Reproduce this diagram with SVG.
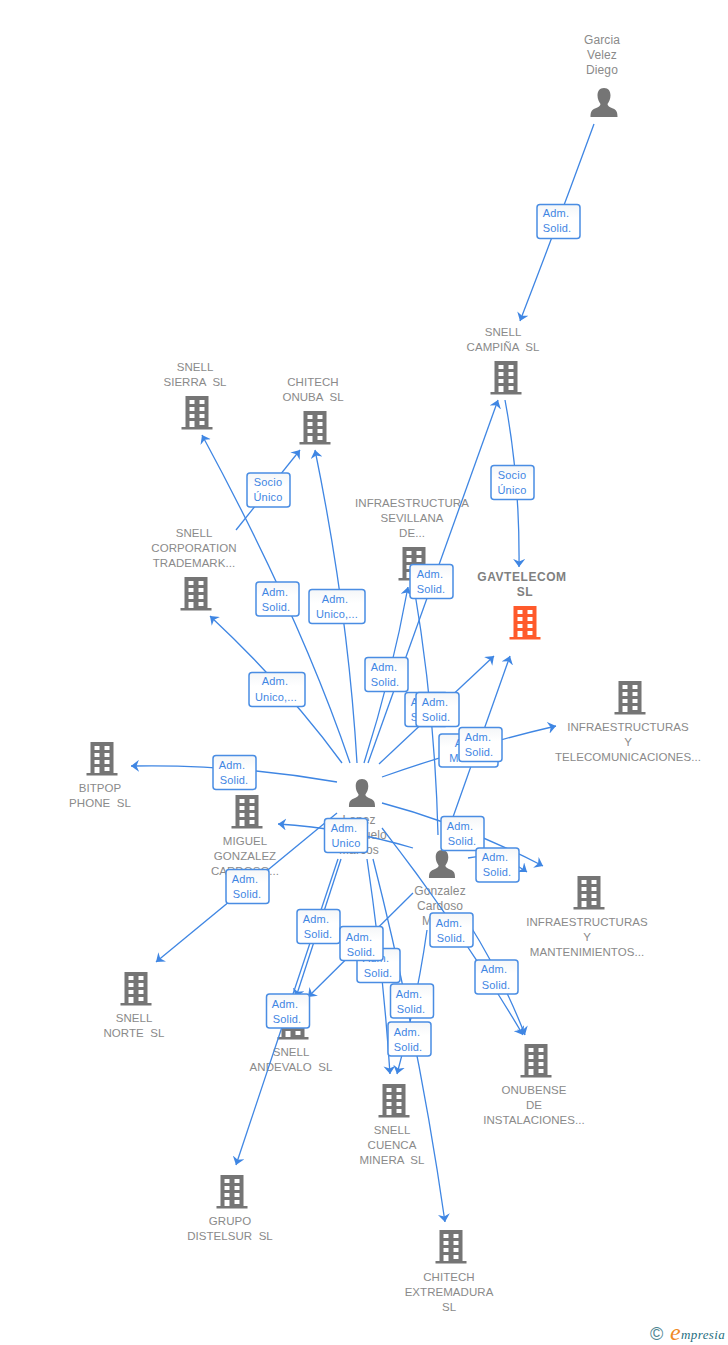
<svg xmlns="http://www.w3.org/2000/svg" width="728" height="1345" viewBox="0 0 728 1345">
<style>
text{font-family:"Liberation Sans",Arial,sans-serif;white-space:pre}
.n{font-size:11.5px;fill:#8a8a8a;text-anchor:middle;letter-spacing:.05px}
.c{font-size:12px;fill:#8a8a8a;text-anchor:middle;letter-spacing:.1px}
.g{font-size:12px;font-weight:bold;fill:#808080;text-anchor:middle;letter-spacing:.55px}
.l{fill:none;stroke:#3f86e3;stroke-width:1.3;marker-end:url(#a)}
.b{fill:url(#w);stroke:#4a8de3;stroke-width:1.5}
.t{font-size:11px;fill:#3f86e3;text-anchor:middle;letter-spacing:.2px}
</style>
<defs>
<linearGradient id="w" x1="0" y1="0" x2="0" y2="1"><stop offset="0" stop-color="#f4f6f8"/><stop offset=".4" stop-color="#fff"/></linearGradient>
<marker id="a" viewBox="0 0 8 12" refX="8" refY="6" markerWidth="8" markerHeight="12" markerUnits="userSpaceOnUse" orient="auto"><path d="M0 0L8 6L0 12L2.500 6Z" fill="#3f86e3"/></marker>
<symbol id="bd" viewBox="0 0 32 34" overflow="visible"><path fill="currentColor" fill-rule="evenodd" d="M4.500 0H27.500V31H31.500V33.500H.5V31H4.500ZM8.500 4V8H13.500V4ZM18.500 4V8H23.500V4ZM8.500 11V15H13.500V11ZM18.500 11V15H23.500V11ZM8.500 18V22H13.500V18ZM18.500 18V22H23.500V18ZM8.500 25V31H13.500V25ZM18.500 25V29H23.500V25Z"/></symbol>
<symbol id="pr" viewBox="0 0 28 29" overflow="visible"><path fill="#757575" d="M14 0C9.500 0 7.500 3 7.500 7.500C7.500 11 9 14 10.500 16C10.500 18 8.500 19 5 20.500C1.500 22 .5 24 .5 29H27.500C27.500 24 26.500 22 23 20.500C19.500 19 17.500 18 17.500 16C19 14 20.500 11 20.500 7.500C20.500 3 18.500 0 14 0Z"/></symbol>
</defs>
<rect width="728" height="1345" fill="#fff"/>
<g id="garcia"><text class="c" x="602" y="44">Garcia</text><text class="c" x="602" y="59">Velez</text><text class="c" x="602" y="74">Diego</text><use href="#pr" x="590" y="88" width="28" height="29"/></g>
<g id="campina" color="#757575"><text class="n" x="503" y="336">SNELL</text><text class="n" x="503" y="351">CAMPIÑA  SL</text><use href="#bd" x="490" y="361" width="32" height="34"/></g>
<g id="sierra" color="#757575"><text class="n" x="195" y="371">SNELL</text><text class="n" x="195" y="386">SIERRA  SL</text><use href="#bd" x="181" y="396" width="32" height="34"/></g>
<g id="onuba" color="#757575"><text class="n" x="313" y="386">CHITECH</text><text class="n" x="313" y="401">ONUBA  SL</text><use href="#bd" x="299" y="411" width="32" height="34"/></g>
<g id="corporation" color="#757575"><text class="n" x="194" y="537">SNELL</text><text class="n" x="194" y="552">CORPORATION</text><text class="n" x="194" y="567">TRADEMARK...</text><use href="#bd" x="180" y="577" width="32" height="34"/></g>
<g id="sevillana" color="#757575"><text class="n" x="412" y="507">INFRAESTRUCTURA</text><text class="n" x="412" y="522">SEVILLANA</text><text class="n" x="412" y="537">DE...</text><use href="#bd" x="398" y="547" width="32" height="34"/></g>
<g id="gavtelecom" color="#ff5a2b"><text class="g" x="522" y="581">GAVTELECOM</text><text class="g" x="525" y="596">SL</text><use href="#bd" x="509" y="606" width="32" height="34"/></g>
<g id="telecom" color="#757575"><text class="n" x="628" y="731">INFRAESTRUCTURAS</text><text class="n" x="628" y="746">Y</text><text class="n" x="628" y="761">TELECOMUNICACIONES...</text><use href="#bd" x="614" y="681" width="32" height="34"/></g>
<g id="bitpop" color="#757575"><text class="n" x="100" y="792">BITPOP</text><text class="n" x="100" y="807">PHONE  SL</text><use href="#bd" x="86" y="742" width="32" height="34"/></g>
<g id="miguel" color="#757575"><text class="n" x="245" y="845">MIGUEL</text><text class="n" x="245" y="860">GONZALEZ</text><text class="n" x="245" y="875">CARDOSO...</text><use href="#bd" x="231" y="795" width="32" height="34"/></g>
<g id="lopez"><text class="c" x="359" y="824">Lopez</text><text class="c" x="359" y="839">Cerezuelo</text><text class="c" x="359" y="854">Marcos</text><use href="#pr" x="348" y="779" width="28" height="28"/></g>
<g id="gonzalez"><text class="c" x="440" y="895">Gonzalez</text><text class="c" x="440" y="910">Cardoso</text><text class="c" x="440" y="925">Miguel</text><use href="#pr" x="428" y="850" width="28" height="28"/></g>
<g id="mantenimientos" color="#757575"><text class="n" x="587" y="926">INFRAESTRUCTURAS</text><text class="n" x="587" y="941">Y</text><text class="n" x="587" y="956">MANTENIMIENTOS...</text><use href="#bd" x="573" y="876" width="32" height="34"/></g>
<g id="norte" color="#757575"><text class="n" x="134" y="1022">SNELL</text><text class="n" x="134" y="1037">NORTE  SL</text><use href="#bd" x="120" y="972" width="32" height="34"/></g>
<g id="andevalo" color="#757575"><text class="n" x="291" y="1056">SNELL</text><text class="n" x="291" y="1071">ANDEVALO  SL</text><use href="#bd" x="277" y="1006" width="32" height="34"/></g>
<g id="onubense" color="#757575"><text class="n" x="534" y="1094">ONUBENSE</text><text class="n" x="534" y="1109">DE</text><text class="n" x="534" y="1124">INSTALACIONES...</text><use href="#bd" x="520" y="1044" width="32" height="34"/></g>
<g id="cuenca" color="#757575"><text class="n" x="392" y="1134">SNELL</text><text class="n" x="392" y="1149">CUENCA</text><text class="n" x="392" y="1164">MINERA  SL</text><use href="#bd" x="378" y="1084" width="32" height="34"/></g>
<g id="distelsur" color="#757575"><text class="n" x="230" y="1225">GRUPO</text><text class="n" x="230" y="1240">DISTELSUR  SL</text><use href="#bd" x="216" y="1175" width="32" height="34"/></g>
<g id="extremadura" color="#757575"><text class="n" x="449" y="1281">CHITECH</text><text class="n" x="449" y="1296">EXTREMADURA</text><text class="n" x="449" y="1311">SL</text><use href="#bd" x="435" y="1230" width="32" height="34"/></g>
<g id="connectors">
<path class="l" d="M594 124Q559 220 520 321"/>
<path class="l" d="M505 400Q520 480 519 567"/>
<path class="l" d="M236 530L300 450"/>
<path class="l" d="M350 763Q300 616 202 435"/>
<path class="l" d="M357 763Q348 611 315 450"/>
<path class="l" d="M342 763Q289 690 210 616"/>
<path class="l" d="M368 763L498 400"/>
<path class="l" d="M364 763Q392 675 408 587"/>
<path class="l" d="M438 835Q435 711 414 587"/>
<path class="l" d="M379 764L494 656"/>
<path class="l" d="M447 834L510 656"/>
<path class="l" d="M382 777Q470 746 556 726"/>
<path class="l" d="M337 782Q234 764 131 766"/>
<path class="l" d="M413 848Q345 828 278 824"/>
<path class="l" d="M337 813L156 962"/>
<path class="l" d="M382 803Q462 824 543 866"/>
<path class="l" d="M468 858Q500 852 527 872"/>
<path class="l" d="M341 859L296 997"/>
<path class="l" d="M338 859L236 1165"/>
<path class="l" d="M413 893L308 997"/>
<path class="l" d="M367 859Q383 967 390 1074"/>
<path class="l" d="M373 859Q419 1040 445 1222"/>
<path class="l" d="M427 930Q417 1001 397 1074"/>
<path class="l" d="M382 828Q462 931 523 1035"/>
<path class="l" d="M468 922Q503 978 525 1035"/>
<g id="labels">
<rect class="b" x="537" y="204.500" width="43" height="34" rx="3"/><text class="t" x="556" y="217">Adm.</text><text class="t" x="557" y="232">Solid.</text>
<rect class="b" x="491" y="465.500" width="43" height="34" rx="3"/><text class="t" x="512" y="479">Socio</text><text class="t" x="512" y="494">Único</text>
<rect class="b" x="247" y="473" width="43" height="34" rx="3"/><text class="t" x="268" y="486">Socio</text><text class="t" x="268" y="501">Único</text>
<rect class="b" x="256" y="582" width="43" height="34" rx="3"/><text class="t" x="275" y="596">Adm.</text><text class="t" x="276" y="611">Solid.</text>
<rect class="b" x="309" y="589.500" width="56" height="34" rx="3"/><text class="t" x="335" y="603">Adm.</text><text class="t" x="337" y="618">Unico,...</text>
<rect class="b" x="249" y="672.500" width="56" height="34" rx="3"/><text class="t" x="275" y="685">Adm.</text><text class="t" x="276" y="701">Unico,...</text>
<rect class="b" x="365" y="657.500" width="43" height="34" rx="3"/><text class="t" x="384" y="671">Adm.</text><text class="t" x="385" y="686">Solid.</text>
<rect class="b" x="410" y="564.500" width="43" height="34" rx="3"/><text class="t" x="430" y="578">Adm.</text><text class="t" x="431" y="593">Solid.</text>
<rect class="b" x="405" y="692.500" width="43" height="34" rx="3"/><text class="t" x="424" y="706">Adm.</text><text class="t" x="425" y="721">Solid.</text>
<rect class="b" x="416" y="692.500" width="43" height="34" rx="3"/><text class="t" x="435" y="706">Adm.</text><text class="t" x="436" y="721">Solid.</text>
<rect class="b" x="439" y="734" width="59" height="33" rx="3"/><text class="t" x="468" y="747">Adm.</text><text class="t" x="468" y="762">Manc...</text>
<rect class="b" x="459" y="727.500" width="43" height="34" rx="3"/><text class="t" x="478" y="741">Adm.</text><text class="t" x="479" y="756">Solid.</text>
<rect class="b" x="213" y="755.500" width="43" height="34" rx="3"/><text class="t" x="232" y="769">Adm.</text><text class="t" x="234" y="784">Solid.</text>
<rect class="b" x="441" y="816.500" width="43" height="34" rx="3"/><text class="t" x="460" y="830">Adm.</text><text class="t" x="462" y="845">Solid.</text>
<rect class="b" x="476" y="848" width="43" height="34" rx="3"/><text class="t" x="495" y="861">Adm.</text><text class="t" x="497" y="876">Solid.</text>
<rect class="b" x="324.500" y="818.500" width="43" height="34" rx="3"/><text class="t" x="344" y="832">Adm.</text><text class="t" x="346" y="847">Unico</text>
<rect class="b" x="226" y="869.500" width="43" height="34" rx="3"/><text class="t" x="245" y="883">Adm.</text><text class="t" x="247" y="898">Solid.</text>
<rect class="b" x="297" y="909.500" width="43" height="34" rx="3"/><text class="t" x="316" y="923">Adm.</text><text class="t" x="318" y="938">Solid.</text>
<rect class="b" x="357" y="948.500" width="43" height="34" rx="3"/><text class="t" x="376" y="962">Adm.</text><text class="t" x="378" y="977">Solid.</text>
<rect class="b" x="340" y="926.500" width="43" height="34" rx="3"/><text class="t" x="359" y="941">Adm.</text><text class="t" x="361" y="956">Solid.</text>
<rect class="b" x="430" y="913" width="43" height="34" rx="3"/><text class="t" x="449" y="927">Adm.</text><text class="t" x="451" y="942">Solid.</text>
<rect class="b" x="475" y="960" width="43" height="34" rx="3"/><text class="t" x="494" y="973">Adm.</text><text class="t" x="496" y="989">Solid.</text>
<rect class="b" x="390.500" y="984" width="43" height="34" rx="3"/><text class="t" x="409" y="998">Adm.</text><text class="t" x="411" y="1013">Solid.</text>
<rect class="b" x="388" y="1022" width="43" height="34" rx="3"/><text class="t" x="407" y="1036">Adm.</text><text class="t" x="408" y="1051">Solid.</text>
<rect class="b" x="266.500" y="994" width="43" height="34" rx="3"/><text class="t" x="285" y="1008">Adm.</text><text class="t" x="287" y="1023">Solid.</text>
</g>
</g>
<g id="logo"><text x="650" y="1340" font-size="18" fill="#4f8592">©</text><text x="670" y="1340" font-size="24" font-style="italic" fill="#f08a24" style="font-family:'Liberation Serif',serif">e</text><text x="681" y="1339" font-size="13" font-style="italic" fill="#1f6f80" style="font-family:'Liberation Serif',serif" letter-spacing=".4">mpresia</text></g>
</svg>
